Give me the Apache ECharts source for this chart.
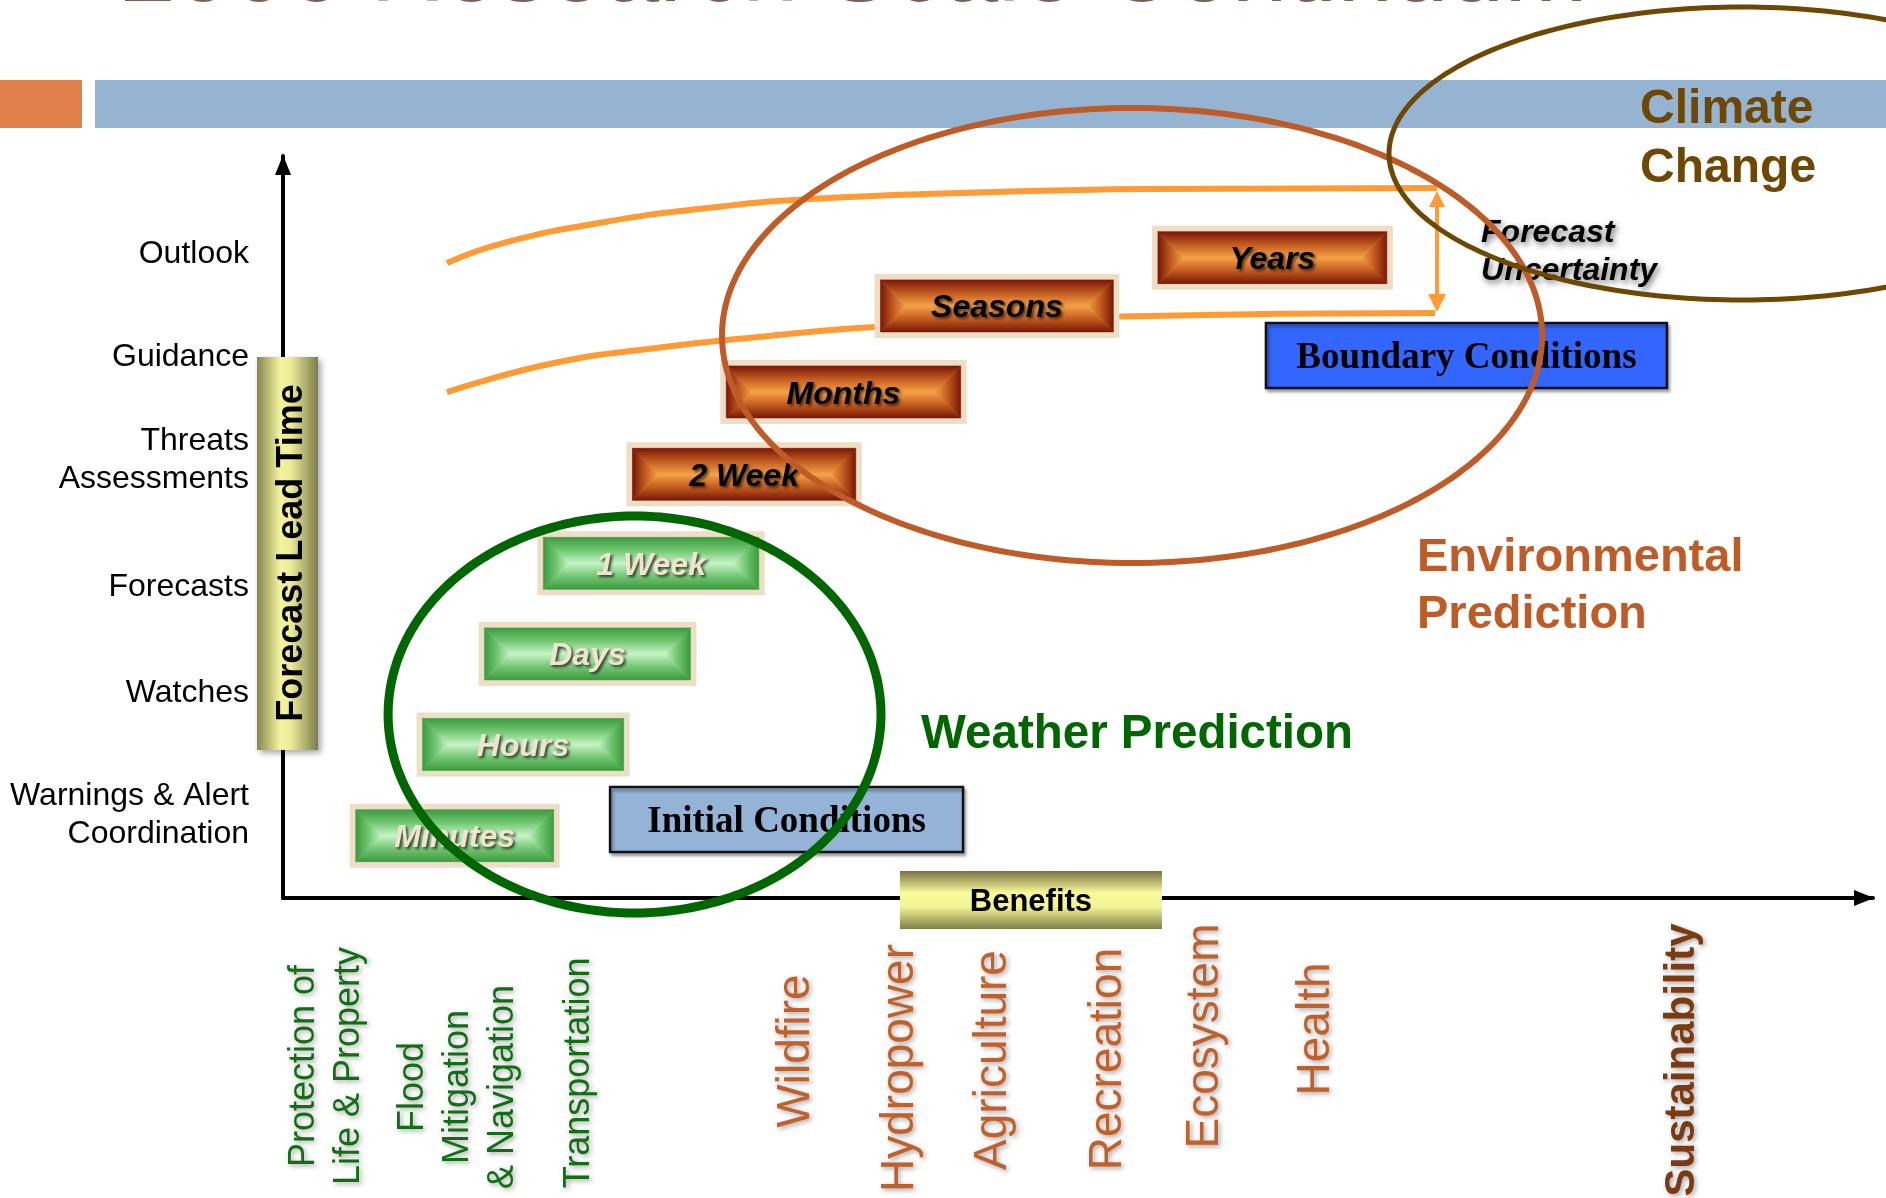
<!DOCTYPE html>
<html>
<head>
<meta charset="utf-8">
<script src="https://cdn.jsdelivr.net/npm/echarts@6/dist/echarts.min.js"></script>
<style>
html,body{margin:0;padding:0;background:#ffffff;}
#chart{width:1886px;height:1198px;}
</style>
</head>
<body>
<div id="chart"></div>
<script>
// ---------------- DATA ----------------
const titleText = '2006 Research Scale Continuum';

// lead-time axis (y, 0..100)
const leadTimeLabels = ['Outlook', 'Guidance', 'Threats\nAssessments', 'Forecasts', 'Watches', 'Warnings & Alert\nCoordination'];
const leadTimeLevels = [87.2, 73.3, 59.4, 42.2, 28.0, 11.5];

// forecast time scales (boxes): start / end on benefit axis, level on lead-time axis
const scaleNames = ['Minutes', 'Hours', 'Days', '1 Week', '2 Week', 'Months', 'Seasons', 'Years'];
const scaleStart = [4.2, 8.4, 12.3, 16.0, 21.6, 27.5, 37.2, 54.65];
const scaleEnd = [17.4, 21.8, 26.0, 30.3, 36.4, 43.0, 52.6, 69.8];
const scaleLevel = [8.4, 20.7, 32.9, 45.1, 57.1, 68.2, 79.8, 86.3];
const scaleGroup = ['weather', 'weather', 'weather', 'weather', 'environment', 'environment', 'environment', 'environment'];

// benefits (x axis labels)
const benefitNames = ['Protection of\nLife & Property', 'Flood\nMitigation\n& Navigation', 'Transportation', 'Wildfire', 'Hydropower', 'Agriculture', 'Recreation', 'Ecosystem', 'Health', 'Sustainability'];
const benefitPosition = [2.52, 10.82, 18.43, 32.01, 38.55, 44.40, 51.64, 57.74, 64.72, 87.80];
const benefitLevel = [-22.64, -25.47, -23.58, -20.62, -22.91, -21.83, -21.70, -18.60, -17.65, -21.83];
const benefitGroup = ['weather', 'weather', 'weather', 'environment', 'environment', 'environment', 'environment', 'environment', 'environment', 'climate'];

// forecast uncertainty envelope
const upperEnvelope = [[10.31, 85.58], [13.84, 88.27], [20.25, 91.11], [26.67, 92.99], [33.08, 94.20], [42.70, 95.01], [54.53, 95.55], [72.58, 95.69]];
const lowerEnvelope = [[10.31, 68.19], [17.04, 72.10], [23.46, 74.12], [29.87, 75.61], [37.23, 76.95], [52.64, 78.37], [72.45, 78.84]];
const uncertaintyRange = [[72.58, 94.2], [72.58, 80.2]];
const uncertaintyLabel = 'Forecast\nUncertainty';
const uncertaintyLabelAt = [75.35, 87.47];

// conditions boxes
const conditionNames = ['Initial Conditions', 'Boundary Conditions'];
const conditionStart = [20.57, 61.82];
const conditionEnd = [42.77, 87.04];
const conditionLevel = [10.58, 73.1];

// benefits axis title box
const benefitsTitle = 'Benefits';
const benefitsStart = 38.8;
const benefitsEnd = 55.28;
const benefitsLevel = -0.27;

// prediction regions (ellipses)
const regionNames = ['Weather Prediction', 'Environmental\nPrediction', 'Climate\nChange'];
const regionCenterX = [22.11, 53.40, 91.76];
const regionCenterY = [24.73, 75.81, 100.34];
const regionRadiusX = [15.50, 25.79, 22.20];
const regionRadiusY = [26.75, 30.66, 19.74];
const regionLabelX = [40.13, 71.32, 85.35];
const regionLabelY = [22.51, 42.45, 102.83];

const leadTimeTitle = 'Forecast Lead Time';

// ---------------- STYLE ----------------
const SANS = '"Liberation Sans", Arial, Helvetica, sans-serif';
const SERIF = '"Liberation Serif", "Times New Roman", serif';
const LG = echarts.graphic.LinearGradient;
const ORANGE_LINE = '#FF9A35';
const PAL = {
  weather: {edge: '#3a9a3c', mid: '#72c673', center: '#c8f5c8', text: '#efe5ca', shadow: 'rgba(30,30,30,0.85)'},
  environment: {edge: '#781505', mid: '#c25c20', center: '#f7a246', text: '#000000', shadow: 'rgba(0,0,0,0.6)'}
};
const REGION_STYLE = [
  {stroke: '#006600', width: 9, color: '#006600', size: 47.5, lh: 56},
  {stroke: '#BE5B26', width: 6, color: '#BE5B26', size: 47, lh: 57},
  {stroke: '#6E4700', width: 5, color: '#6E4700', size: 48, lh: 59}
];
const BENEFIT_STYLE = {
  weather: {color: '#0f6f12', size: 36, weight: 'normal', lh: 45},
  environment: {color: '#C0612B', size: 46, weight: 'normal', lh: 56},
  climate: {color: '#7A3A12', size: 42, weight: 'bold', lh: 52}
};
const CONDITION_FILL = ['#95B3D7', '#3366FF'];
const DY = 0.085; // glyph-centre correction, as a fraction of font size

// ---------------- RENDERERS ----------------
function renderScale(params, api) {
  const i = api.value(3);
  const a = api.coord([api.value(0), api.value(2)]);
  const b = api.coord([api.value(1), api.value(2)]);
  const H = 64, F = 6;
  const ox = a[0], ow = b[0] - a[0], oy = a[1] - H / 2;
  const ix = ox + F, iy = oy + F, iw = ow - 2 * F, ih = H - 2 * F;
  const half = ih / 2, cy = iy + half;
  const p = PAL[scaleGroup[i]];
  const stops = [{offset: 0, color: p.edge}, {offset: 0.5, color: p.mid}, {offset: 1, color: p.center}];
  const lx = ix + half, rx = ix + iw - half;
  const poly = (pts, g) => ({type: 'polygon', shape: {points: pts}, style: {fill: g, stroke: g, lineWidth: 0.6}});
  return {
    type: 'group',
    children: [
      {type: 'rect', shape: {x: ox, y: oy, width: ow, height: H}, style: {fill: '#ecdfc6'}},
      poly([[ix, iy], [ix + iw, iy], [rx, cy], [lx, cy]], new LG(0, 0, 0, 1, stops)),
      poly([[ix, iy + ih], [ix + iw, iy + ih], [rx, cy], [lx, cy]], new LG(0, 1, 0, 0, stops)),
      poly([[ix, iy], [ix, iy + ih], [lx, cy]], new LG(0, 0, 1, 0, stops)),
      poly([[ix + iw, iy], [ix + iw, iy + ih], [rx, cy]], new LG(1, 0, 0, 0, stops)),
      {type: 'text', x: ox + ow / 2, y: a[1] + 32 * DY,
        style: {text: scaleNames[i], fill: p.text, fontFamily: SANS, fontSize: 32, fontWeight: 'bold', fontStyle: 'italic',
          align: 'center', verticalAlign: 'middle', textShadowColor: p.shadow, textShadowBlur: 3, textShadowOffsetX: 2, textShadowOffsetY: 2}}
    ]
  };
}

function renderCondition(params, api) {
  const i = api.value(3);
  const a = api.coord([api.value(0), api.value(2)]);
  const b = api.coord([api.value(1), api.value(2)]);
  const H = 65;
  return {
    type: 'group',
    children: [
      {type: 'rect', shape: {x: a[0], y: a[1] - H / 2, width: b[0] - a[0], height: H},
        style: {fill: CONDITION_FILL[i], stroke: '#111111', lineWidth: 2.5, shadowColor: 'rgba(0,0,0,0.35)', shadowBlur: 3, shadowOffsetX: 2, shadowOffsetY: 3}},
      {type: 'text', x: (a[0] + b[0]) / 2, y: a[1] + 3,
        style: {text: conditionNames[i], fill: '#000', fontFamily: SERIF, fontSize: 37, fontWeight: 'bold', align: 'center', verticalAlign: 'middle'}}
    ]
  };
}

function renderBenefitsBox(params, api) {
  const a = api.coord([api.value(0), api.value(2)]);
  const b = api.coord([api.value(1), api.value(2)]);
  const H = 58;
  return {
    type: 'group',
    children: [
      {type: 'rect', shape: {x: a[0], y: a[1] - H / 2, width: b[0] - a[0], height: H},
        style: {fill: new LG(0, 0, 0, 1, [{offset: 0, color: '#7a7242'}, {offset: 0.38, color: '#fbfb9c'}, {offset: 0.62, color: '#f3f395'}, {offset: 1, color: '#7d7d47'}])}},
      {type: 'text', x: (a[0] + b[0]) / 2, y: a[1] + 31 * DY,
        style: {text: benefitsTitle, fill: '#000', fontFamily: SANS, fontSize: 31, fontWeight: 'bold', align: 'center', verticalAlign: 'middle'}}
    ]
  };
}

function renderLeadLabel(params, api) {
  const i = api.value(2);
  const p = api.coord([api.value(0), api.value(1)]);
  return {type: 'text', x: p[0], y: p[1] + 32 * DY,
    style: {text: leadTimeLabels[i], fill: '#000', fontFamily: SANS, fontSize: 32, lineHeight: 38, align: 'right', verticalAlign: 'middle'}};
}

function renderBenefitLabel(params, api) {
  const i = api.value(2);
  const p = api.coord([api.value(0), api.value(1)]);
  const s = BENEFIT_STYLE[benefitGroup[i]];
  return {type: 'text', x: p[0] + s.size * DY, y: p[1], rotation: Math.PI / 2,
    style: {text: benefitNames[i], fill: s.color, fontFamily: SANS, fontSize: s.size, fontWeight: s.weight, lineHeight: s.lh,
      align: 'center', verticalAlign: 'middle', textShadowColor: 'rgba(0,0,0,0.35)', textShadowBlur: 5, textShadowOffsetX: 2, textShadowOffsetY: 2}};
}

function renderRegion(params, api) {
  const i = api.value(4);
  const c = api.coord([api.value(0), api.value(1)]);
  const e = api.coord([api.value(0) + api.value(2), api.value(1) + api.value(3)]);
  const rx = Math.abs(e[0] - c[0]), ry = Math.abs(e[1] - c[1]);
  const pts = [];
  for (let k = 0; k < 240; k++) {
    const t = k / 240 * Math.PI * 2;
    pts.push([c[0] + rx * Math.cos(t), c[1] + ry * Math.sin(t)]);
  }
  const s = REGION_STYLE[i];
  return {type: 'polygon', shape: {points: pts}, style: {fill: 'none', stroke: s.stroke, lineWidth: s.width}};
}

function renderRegionLabel(params, api) {
  const i = api.value(2);
  const p = api.coord([api.value(0), api.value(1)]);
  const s = REGION_STYLE[i];
  return {type: 'text', x: p[0], y: p[1] + s.size * DY,
    style: {text: regionNames[i], fill: s.color, fontFamily: SANS, fontSize: s.size, fontWeight: 'bold', lineHeight: s.lh, align: 'left', verticalAlign: 'middle'}};
}

function renderUncertaintyLabel(params, api) {
  const p = api.coord([api.value(0), api.value(1)]);
  return {type: 'text', x: p[0], y: p[1] + 32 * DY,
    style: {text: uncertaintyLabel, fill: '#000', fontFamily: SANS, fontSize: 32, fontWeight: 'bold', fontStyle: 'italic', lineHeight: 38,
      align: 'left', verticalAlign: 'middle', textShadowColor: 'rgba(0,0,0,0.55)', textShadowBlur: 6, textShadowOffsetX: 2, textShadowOffsetY: 3}};
}

// ---------------- CHART ----------------
const chart = echarts.init(document.getElementById('chart'), null, {renderer: 'canvas', width: 1886, height: 1198});

const axisCommon = {
  type: 'value', min: 0, max: 100,
  axisTick: {show: false}, axisLabel: {show: false}, splitLine: {show: false},
  axisLine: {show: true, onZero: false, symbol: ['none', 'triangle'], symbolSize: [16, 20], symbolOffset: [0, -9],
    lineStyle: {color: '#000', width: 4}}
};

const option = {
  animation: false,
  backgroundColor: '#ffffff',
  grid: {left: 283, right: 13, top: 156, bottom: 300, containLabel: false},
  xAxis: Object.assign({}, axisCommon),
  yAxis: Object.assign({}, axisCommon),
  graphic: [
    {type: 'text', x: 120, y: -27, z: 1, silent: true,
      style: {text: titleText, fill: '#7a6058', fontFamily: SANS, fontSize: 100, align: 'left', verticalAlign: 'middle', textAlign: 'left', textVerticalAlign: 'middle'}},
    {type: 'rect', z: 1, silent: true, shape: {x: 0, y: 80, width: 82, height: 48}, style: {fill: '#E0804A'}},
    {type: 'rect', z: 1, silent: true, shape: {x: 95, y: 80, width: 1791, height: 48}, style: {fill: '#94B4D2'}},
    {type: 'rect', z: 30, silent: true, shape: {x: 257, y: 357, width: 61, height: 393},
      style: {fill: new LG(0, 0, 1, 0, [{offset: 0, color: '#86864f'}, {offset: 0.38, color: '#f4f49e'}, {offset: 0.55, color: '#ecec98'}, {offset: 1, color: '#7c7c4a'}]),
        shadowColor: 'rgba(0,0,0,0.35)', shadowBlur: 6, shadowOffsetX: 3, shadowOffsetY: 3}},
    {type: 'text', z: 31, silent: true, x: 289 + 36 * DY, y: 553, rotation: Math.PI / 2,
      style: {text: leadTimeTitle, fill: '#000', fontFamily: SANS, fontSize: 36, fontWeight: 'bold', align: 'center', verticalAlign: 'middle', textAlign: 'center', textVerticalAlign: 'middle'}}
  ],
  series: [
    {type: 'line', data: upperEnvelope, smooth: true, symbol: 'none', silent: true, clip: false, z: 3,
      lineStyle: {color: ORANGE_LINE, width: 6}},
    {type: 'line', data: lowerEnvelope, smooth: true, symbol: 'none', silent: true, clip: false, z: 3,
      lineStyle: {color: ORANGE_LINE, width: 6}},
    {type: 'lines', coordinateSystem: 'cartesian2d', silent: true, z: 3,
      data: [{coords: uncertaintyRange}], symbol: ['triangle', 'triangle'], symbolSize: [16, 18],
      lineStyle: {color: ORANGE_LINE, width: 4, opacity: 1, curveness: 0}},
    {type: 'custom', renderItem: renderCondition, silent: true, clip: false, z: 4,
      data: conditionStart.map((s, i) => [s, conditionEnd[i], conditionLevel[i], i])},
    {type: 'custom', renderItem: renderScale, silent: true, clip: false, z: 5,
      data: scaleStart.map((s, i) => [s, scaleEnd[i], scaleLevel[i], i])},
    {type: 'custom', renderItem: renderBenefitsBox, silent: true, clip: false, z: 5,
      data: [[benefitsStart, benefitsEnd, benefitsLevel]]},
    {type: 'custom', renderItem: renderLeadLabel, silent: true, clip: false, z: 6,
      data: leadTimeLevels.map((v, i) => [-2.14, v, i])},
    {type: 'custom', renderItem: renderBenefitLabel, silent: true, clip: false, z: 6,
      data: benefitPosition.map((x, i) => [x, benefitLevel[i], i])},
    {type: 'custom', renderItem: renderUncertaintyLabel, silent: true, clip: false, z: 6,
      data: [[uncertaintyLabelAt[0], uncertaintyLabelAt[1]]]},
    {type: 'custom', renderItem: renderRegion, silent: true, clip: false, z: 8,
      data: regionCenterX.map((x, i) => [x, regionCenterY[i], regionRadiusX[i], regionRadiusY[i], i])},
    {type: 'custom', renderItem: renderRegionLabel, silent: true, clip: false, z: 9,
      data: regionLabelX.map((x, i) => [x, regionLabelY[i], i])}
  ]
};
chart.setOption(option);
</script>
</body>
</html>
